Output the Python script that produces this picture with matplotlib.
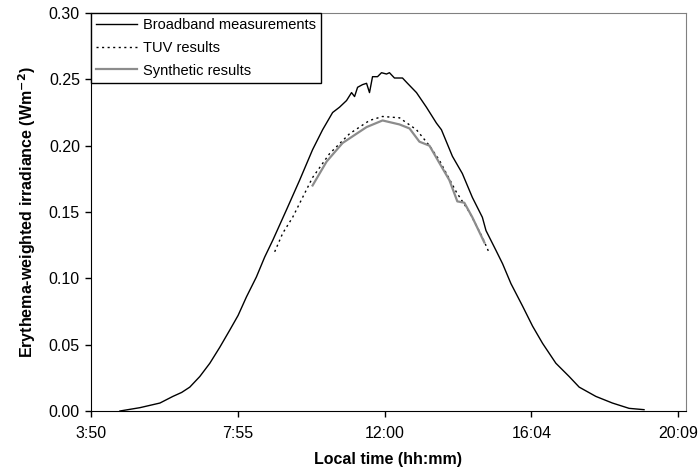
import matplotlib.pyplot as plt

plt.rcParams['font.family'] = ['Liberation Sans', 'DejaVu Sans']

# time as fraction of day
bb_t = [0.1935, 0.2166, 0.2398, 0.2548, 0.2650, 0.2744, 0.2860, 0.2976, 0.3091, 0.3207,
        0.3303, 0.3400, 0.3515, 0.3611, 0.3707, 0.3866, 0.4016, 0.4166, 0.4282,
        0.4398, 0.4478, 0.4559, 0.4617, 0.4652, 0.4687, 0.4744, 0.4791, 0.4825,
        0.4860, 0.4918, 0.4964, 0.5022, 0.5056, 0.5114, 0.5207, 0.5265, 0.5369,
        0.5484, 0.5600, 0.5658, 0.5785, 0.5900, 0.6016, 0.6132, 0.6174, 0.6290,
        0.6366, 0.6463, 0.6598, 0.6713, 0.6829, 0.6983, 0.7137, 0.7253, 0.7446,
        0.7638, 0.7831, 0.8004]
bb_v = [0.000, 0.0025, 0.006, 0.011, 0.014, 0.018, 0.026, 0.036, 0.048, 0.061,
        0.072, 0.086, 0.101, 0.116, 0.129, 0.152, 0.174, 0.197, 0.212,
        0.225, 0.229, 0.234, 0.240, 0.237, 0.244, 0.246, 0.247, 0.240,
        0.252, 0.252, 0.255, 0.254, 0.255, 0.251, 0.251, 0.247, 0.240,
        0.229, 0.217, 0.212, 0.192, 0.179, 0.161, 0.146, 0.136, 0.121,
        0.111, 0.096, 0.079, 0.064, 0.051, 0.036, 0.026, 0.018, 0.011,
        0.006, 0.002, 0.001]

tuv_t = [0.3727, 0.3820, 0.3935, 0.4166, 0.4363, 0.4594, 0.4825, 0.4976, 0.5172,
         0.5369, 0.5519, 0.5634, 0.5831, 0.5981, 0.6132, 0.6212]
tuv_v = [0.120, 0.134, 0.146, 0.176, 0.194, 0.209, 0.219, 0.222, 0.221,
         0.212, 0.200, 0.189, 0.165, 0.150, 0.131, 0.119]

syn_t = [0.4166, 0.4328, 0.4513, 0.4675, 0.4791, 0.4976, 0.5172, 0.5288, 0.5403,
         0.5519, 0.5634, 0.5750, 0.5842, 0.5923, 0.6016, 0.6155]
syn_v = [0.170, 0.188, 0.202, 0.209, 0.214, 0.219, 0.216, 0.213, 0.203,
         0.200, 0.187, 0.174, 0.158, 0.157, 0.146, 0.127]

xticks = [0.16, 0.33, 0.50, 0.67, 0.84]
xlabels = ["3:50", "7:55", "12:00", "16:04", "20:09"]

fig = plt.figure(figsize=(6.99, 4.74), dpi=100)
ax = fig.add_axes([91 / 699, 1 - 411 / 474, 595 / 699, 398 / 474])

ax.plot(bb_t, bb_v, color="black", lw=1.0, label="Broadband measurements")
ax.plot(tuv_t, tuv_v, color="black", lw=1.0, linestyle=(0, (1.5, 2.5)), label="TUV results")
ax.plot(syn_t, syn_v, color="#8c8c8c", lw=1.6, label="Synthetic results")

ax.set_xlim(0.16, 0.849)
ax.set_ylim(0, 0.30)
ax.set_xticks(xticks)
ax.set_xticklabels(xlabels)
ax.set_yticks([0, 0.05, 0.10, 0.15, 0.20, 0.25, 0.30])
ax.set_yticklabels(["0.00", "0.05", "0.10", "0.15", "0.20", "0.25", "0.30"])
ax.tick_params(direction="out", length=4, width=1, labelsize=11.5)
ax.tick_params(axis="x", pad=7)
ax.tick_params(axis="y", pad=4)

for s in ["top", "right"]:
    ax.spines[s].set_color("#808080")
for s in ["left", "bottom"]:
    ax.spines[s].set_color("black")

ax.set_xlabel("Local time (hh:mm)", fontweight="bold", fontsize=11.5, labelpad=8)
ax.set_ylabel("Erythema-weighted irradiance (Wm$^{\\mathbf{-2}}$)", fontweight="bold",
              fontsize=11.5, labelpad=8)

leg = ax.legend(loc="upper left", borderaxespad=0, fancybox=False, fontsize=10.5,
                handlelength=2.8, handletextpad=0.4, borderpad=0.35, labelspacing=0.6)
leg.get_frame().set_edgecolor("black")
leg.get_frame().set_linewidth(1.0)
leg.get_frame().set_alpha(1)

fig.savefig("out.png", dpi=100)
